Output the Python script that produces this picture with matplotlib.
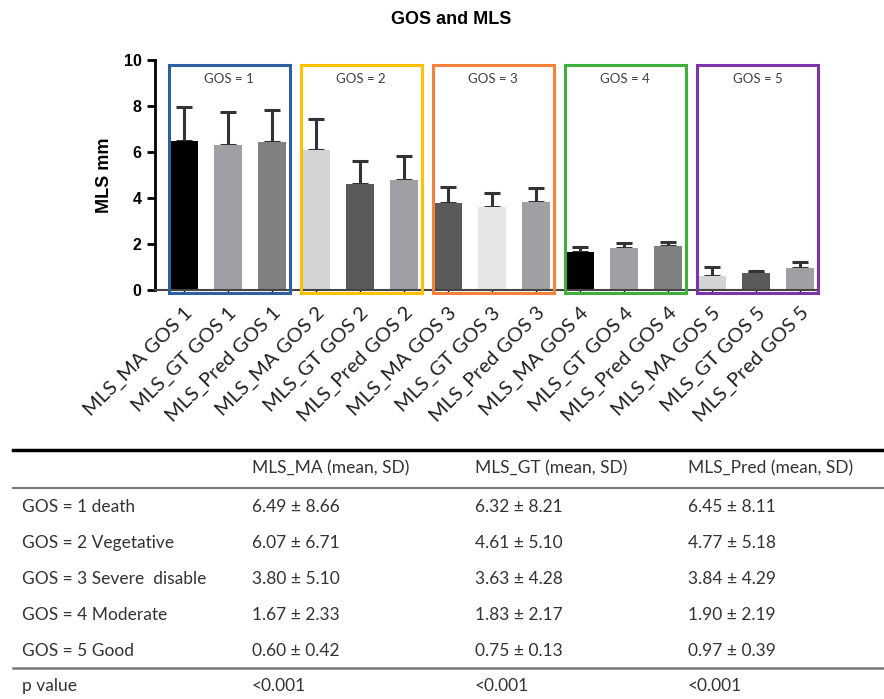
import numpy as np
import matplotlib.pyplot as plt
from matplotlib.patches import Rectangle
from matplotlib.lines import Line2D

groups = ['GOS = 1', 'GOS = 2', 'GOS = 3', 'GOS = 4', 'GOS = 5']
row_names = ['GOS = 1 death', 'GOS = 2 Vegetative', 'GOS = 3 Severe  disable',
             'GOS = 4 Moderate', 'GOS = 5 Good']
methods = ['MLS_MA', 'MLS_GT', 'MLS_Pred']

# table values (mean, SD)
ma_mean = [6.49, 6.07, 3.80, 1.67, 0.60]
ma_sd = [8.66, 6.71, 5.10, 2.33, 0.42]
gt_mean = [6.32, 4.61, 3.63, 1.83, 0.75]
gt_sd = [8.21, 5.10, 4.28, 2.17, 0.13]
pred_mean = [6.45, 4.77, 3.84, 1.90, 0.97]
pred_sd = [8.11, 5.18, 4.29, 2.19, 0.39]
p_values = ['<0.001', '<0.001', '<0.001']

# error bars as drawn in the figure
ma_err = [1.45, 1.35, 0.69, 0.20, 0.41]
gt_err = [1.43, 1.00, 0.57, 0.22, 0.08]
pred_err = [1.38, 1.06, 0.61, 0.20, 0.25]

box_colors = ['#2e5f9e', '#ffc000', '#f5813a', '#3fae3c', '#7a35a8']
bar_colors = ['#000000', '#a0a0a4', '#808080',
              '#d4d4d4', '#5a5a5a', '#a0a0a4',
              '#5a5a5a', '#e6e6e6', '#a0a0a4',
              '#000000', '#a0a0a4', '#808080',
              '#d4d4d4', '#5a5a5a', '#a0a0a4']

means = []
errs = []
labels = []
for g in range(5):
    means += [ma_mean[g], gt_mean[g], pred_mean[g]]
    errs += [ma_err[g], gt_err[g], pred_err[g]]
    labels += ['%s GOS %d' % (m, g + 1) for m in methods]
x = np.arange(len(means))

fig = plt.figure(figsize=(8.84, 6.99), dpi=100)
ax = fig.add_axes([0.175, 0.585, 0.75, 0.329])

ax.bar(x, means, width=0.64, color=bar_colors, zorder=2)
ax.errorbar(x, means, yerr=[np.zeros(len(errs)), errs], fmt='none',
            ecolor='#333333', elinewidth=2.2, capsize=6, capthick=2.2, zorder=1)

for g in range(5):
    r = Rectangle((3 * g - 0.34, -0.13), 2.75, 9.91, fill=False,
                  edgecolor=box_colors[g], linewidth=2.2, clip_on=False, zorder=3)
    ax.add_patch(r)
    ax.text(3 * g + 1.03, 9.2, groups[g], ha='center', va='center',
            fontsize=9.5, color='#404040', family='Lato')

ax.set_xlim(-0.66, 14.4)
ax.set_ylim(0, 10)
ax.set_yticks([0, 2, 4, 6, 8, 10])
for lab in ax.get_yticklabels():
    lab.set_fontweight('bold')
    lab.set_fontsize(11.5)
    lab.set_family('Liberation Sans')
ax.set_xticks(x)
ax.set_xticklabels(labels, rotation=45, ha='right', rotation_mode='anchor',
                   fontsize=14.5, family='Lato', color='#222222')
ax.tick_params(axis='x', length=3, width=1, pad=7)
ax.tick_params(axis='y', length=6, width=2)
ax.set_ylabel('MLS mm', fontsize=13, fontweight='bold', labelpad=8,
              family='Liberation Sans')
for s in ['top', 'right']:
    ax.spines[s].set_visible(False)
ax.spines['left'].set_linewidth(2)
ax.spines['bottom'].set_linewidth(1.5)
ax.spines['bottom'].set_color('#444444')

fig.text(0.51, 0.972, 'GOS and MLS', ha='center', va='center',
         fontsize=13, fontweight='bold', family='Liberation Sans')

# table under the chart
H = 699.0
def fy(py):
    return 1 - py / H

tf = dict(fontsize=12.5, family='Lato', color='#333333', va='center')
col_x = [22 / 884, 252 / 884, 475 / 884, 688 / 884]
fig.add_artist(Line2D([13 / 884, 1], [fy(450), fy(450)], color='black', lw=2.5))
fig.add_artist(Line2D([13 / 884, 1], [fy(487.5), fy(487.5)], color='#777777', lw=1.5))
fig.add_artist(Line2D([13 / 884, 1], [fy(668), fy(668)], color='#777777', lw=1.8))

for i, m in enumerate(methods):
    fig.text(col_x[i + 1], fy(468), m + ' (mean, SD)', **tf)

row_y = [507, 543, 579, 615, 651]
cols = [(ma_mean, ma_sd), (gt_mean, gt_sd), (pred_mean, pred_sd)]
for r in range(5):
    fig.text(col_x[0], fy(row_y[r]), row_names[r], **tf)
    for c in range(3):
        mu, sd = cols[c]
        fig.text(col_x[c + 1], fy(row_y[r]), '%.2f \u00b1 %.2f' % (mu[r], sd[r]), **tf)

fig.text(col_x[0], fy(686), 'p value', **tf)
for c in range(3):
    fig.text(col_x[c + 1], fy(686), p_values[c], **tf)

plt.savefig('out.png')
